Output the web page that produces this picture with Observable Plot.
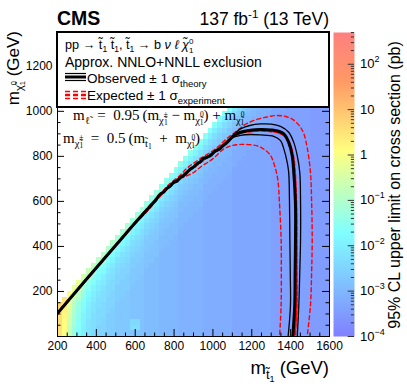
<!DOCTYPE html>
<html><head><meta charset="utf-8">
<script src="https://cdn.jsdelivr.net/npm/d3@7"></script>
<script src="https://cdn.jsdelivr.net/npm/@observablehq/plot@0.6"></script>
<style>
html,body{margin:0;padding:0;background:#fff;}
#chart{position:relative;width:407px;height:391px;font-family:"Liberation Sans",Arial,Helvetica,sans-serif;}
#chart svg{position:absolute;top:0;overflow:visible;}
</style></head><body><div id="chart"></div>
<script>
// ---------------- data ----------------
// heat map: 25 GeV cells, x from 200 GeV, y from 0 GeV; each row is right-anchored at 1600 GeV
const X_START = 200, X_BIN = 25, Y_BIN = 25, N_COLS = 56;
// one character per cell: log10(sigma/pb) = -3.6 + 0.1 * index in LEVELS
const LEVELS = "0123456789ABCDEFGHIJKLMNOPQRSTUVWXYZabcdefghijklmnopqrstuvwxyz";
const LOG_MIN = -3.6, LOG_STEP = 0.1;
const ROWS = [
  "faTNJGEC" + "BBAA" + "999" + "888" + "777" + "6666" + "55555" + "444444" + "33333333" + "22222222" + "1111",
  "gbTNKGED" + "BBAA" + "999" + "DD8" + "777" + "6666" + "55555" + "444444" + "33333333" + "22222222" + "1111",
  "gbUOKHEDC" + "BAA" + "999" + "CC8" + "777" + "6666" + "55555" + "444444" + "33333333" + "22222222" + "1111",
  "gcVPLHFDCC" + "AA" + "999" + "888" + "777" + "6666" + "55555" + "444444" + "33333333" + "22222222" + "1111",
  "hdWQMIFECCB" + "A" + "999" + "888" + "777" + "6666" + "55555" + "444444" + "33333333" + "22222222" + "1111",
  "ieXRNJGEDCBB" + "999" + "888" + "777" + "6666" + "55555" + "444444" + "33333333" + "22222222" + "1111",
  "fZTPKHFDDBBA" + "99" + "888" + "777" + "6666" + "55555" + "444444" + "33333333" + "22222222" + "1111",
  "bVRMIGEDCBAA" + "9" + "888" + "777" + "6666" + "55555" + "444444" + "33333333" + "22222222" + "1111",
  "YUOKHFECCAAA" + "888" + "777" + "6666" + "55555" + "444444" + "33333333" + "22222222" + "1111",
  "YRMJGFDCBAA9" + "88" + "777" + "6666" + "55555" + "444444" + "33333333" + "22222222" + "1111",
  "VPLIGEDBBA99" + "8" + "777" + "6666" + "55555" + "444444" + "33333333" + "22222222" + "1111",
  "TOKIFECBB999" + "777" + "6666" + "55555" + "444444" + "33333333" + "22222222" + "1111",
  "SNKHFDCBA998" + "77" + "6666" + "55555" + "444444" + "33333333" + "22222222" + "1111",
  "RNJHEDCAA988" + "7" + "6666" + "55555" + "444444" + "33333333" + "22222222" + "1111",
  "RMJGEDBAA888" + "6666" + "55555" + "444444" + "33333333" + "22222222" + "1111",
  "QMIGECBA9887" + "666" + "55555" + "444444" + "33333333" + "22222222" + "1111",
  "QLIGDCB99877" + "66" + "55555" + "444444" + "33333333" + "22222222" + "1111",
  "PLIFDCA99777" + "6" + "55555" + "444444" + "33333333" + "22222222" + "1111",
  "PLHFDBA98777" + "55555" + "444444" + "33333333" + "22222222" + "1111",
  "PKHFCBA88776" + "5555" + "444444" + "33333333" + "22222222" + "1111",
  "OKHECB988766" + "555" + "444444" + "33333333" + "22222222" + "1111",
  "OKGECA988666" + "55" + "444444" + "33333333" + "22222222" + "1111",
  "OJGEBA987666" + "5" + "444444" + "33333333" + "22222222" + "1111",
  "NJGDBA977666" + "444444" + "33333333" + "22222222" + "1111",
  "NJFDBA877665" + "44444" + "33333333" + "22222222" + "1111",
  "NIFDB9877655" + "4444" + "33333333" + "22222222" + "1111",
  "MIFDA9877555" + "444" + "33333333" + "22222222" + "1111",
  "MIFCA9876555" + "44" + "33333333" + "22222222" + "1111",
  "MIECA9866555" + "4" + "33333333" + "22222222" + "1111",
  "MHECA9766555" + "33333333" + "22222222" + "1111",
  "LHECA8766554" + "3333333" + "22222222" + "1111",
  "LHEC98766544" + "333333" + "22222222" + "1111",
  "LHEB98766444" + "33333" + "22222222" + "1111",
  "LHDB98765444" + "3333" + "22222222" + "1111",
  "LGDB98755444" + "333" + "22222222" + "1111",
  "KGDB98655444" + "33" + "22222222" + "1111",
  "KGDB97655444" + "3" + "22222222" + "1111",
  "KGDB87655444" + "22222222" + "1111",
  "KGDA87655443" + "2222222" + "1111",
  "KGCA87655433" + "222222" + "1111",
  "KFCA87655333" + "22222" + "1111"
];

// exclusion contours [m_stop, m_chi] in GeV
const OBSERVED = [[200,103],[350,255],[500,405],[600,505],[661,563],[700,600],[730,633],[745,640],[760,655],[780,668],[799,685],[815,690],[835,708],[850,715],[870,732],[884,744],[900,752],[919,767],[935,776],[950,790],[970,796],[990,805],[1010,822],[1030,830],[1050,845],[1073,862],[1107,892],[1142,907],[1193,916],[1245,919],[1300,917],[1331,913],[1365,900],[1390,862],[1408,803],[1416,729],[1425,581],[1425,434],[1423,285],[1421,138],[1411,0]];
const OBS_PLUS = [[1010,822],[1030,830],[1050,845],[1073,862],[1107,897],[1142,922],[1190,937],[1245,944],[1300,943],[1348,933],[1390,907],[1416,862],[1434,803],[1447,729],[1451,600],[1451,434],[1447,285],[1442,138],[1434,0]];
const OBS_MINUS = [[1010,822],[1030,830],[1050,845],[1073,862],[1107,885],[1142,893],[1190,897],[1245,895],[1313,889],[1348,870],[1365,833],[1382,774],[1390,729],[1394,600],[1396,434],[1398,285],[1399,138],[1387,0]];
const EXPECTED = [[200,103],[350,255],[500,405],[600,505],[661,565],[720,622],[780,672],[840,712],[900,752],[960,790],[1020,828],[1073,866],[1110,893],[1150,906],[1193,912],[1245,915],[1300,912],[1340,905],[1370,890],[1395,855],[1412,800],[1421,729],[1428,581],[1430,434],[1430,285],[1430,138],[1421,0]];
const EXP_PLUS = [[600,505],[661,570],[713,618],[780,680],[830,715],[867,748],[910,775],[953,800],[1000,825],[1039,852],[1070,878],[1107,902],[1140,925],[1176,946],[1230,965],[1279,975],[1322,981],[1370,978],[1414,962],[1450,930],[1468,900],[1485,840],[1502,729],[1508,600],[1511,434],[1508,285],[1502,138],[1485,0]];
const EXP_MINUS = [[600,505],[650,545],[696,590],[760,650],[833,700],[870,715],[902,729],[940,755],[987,781],[1020,805],[1056,833],[1100,848],[1142,853],[1185,852],[1230,846],[1265,830],[1296,805],[1322,745],[1335,690],[1342,600],[1351,434],[1352,285],[1351,138],[1343,0]];

// axes
const X_TICKS = [200,400,600,800,1000,1200,1400,1600];
const X_MINOR = [250,300,350,450,500,550,650,700,750,850,900,950,1050,1100,1150,1250,1300,1350,1450,1500,1550];
const Y_TICKS = [200,400,600,800,1000,1200];
const Y_MINOR = [50,100,150,250,300,350,450,500,550,650,700,750,850,900,950,1050,1100,1150,1250,1300];
// colour bar (log10 of pb)
const Z_MIN_LOG = -4, Z_MAX_LOG = 2.7;
const Z_TICKS = [-4,-3,-2,-1,0,1,2];
const Z_LABELS = [["10","−4"],["10","−3"],["10","−2"],["10","−1"],["1",""],["10",""],["10","2"]];
// palette stops (log10 pb) and colours
const Z_STOPS_LOG = [-4, -1.72, 0.09, 1.63, 2.7];
const Z_COLORS = ["rgb(128,128,255)","rgb(128,255,255)","rgb(255,255,128)","rgb(255,153,102)","rgb(255,128,128)"];

// ---------------- build ----------------
const cells = [];
ROWS.forEach((s, j) => {
  const start = N_COLS - s.length;
  [...s].forEach((c, k) => {
    const idx = LEVELS.indexOf(c);
    if (idx < 0) return;
    const i = start + k;
    cells.push({x1: X_START + i * X_BIN, x2: X_START + (i + 1) * X_BIN, y1: j * Y_BIN, y2: (j + 1) * Y_BIN,
                v: Math.pow(10, LOG_MIN + LOG_STEP * idx)});
  });
});

const colorOpts = {type: "log", domain: Z_STOPS_LOG.map(d => Math.pow(10, d)), range: Z_COLORS, interpolate: "rgb", clamp: true};
const FONT = "Liberation Sans, Arial, Helvetica, sans-serif";

const main = Plot.plot({
  width: 407, height: 391, marginLeft: 57, marginRight: 78, marginTop: 32, marginBottom: 55,
  x: {domain: [200, 1600]},
  y: {domain: [0, 1350]},
  color: colorOpts,
  style: {fontFamily: FONT, fontSize: "12px", background: "transparent", color: "black"},
  marks: [
    Plot.rect(cells, {x1: "x1", x2: "x2", y1: "y1", y2: "y2", fill: "v", shapeRendering: "crispEdges"}),
    Plot.line(EXP_MINUS, {stroke: "#ff0000", strokeWidth: 1.4, strokeDasharray: "4,3", curve: "catmull-rom", clip: true}),
    Plot.line(EXP_PLUS, {stroke: "#ff0000", strokeWidth: 1.4, strokeDasharray: "4,3", curve: "catmull-rom", clip: true}),
    Plot.line(EXPECTED, {stroke: "#ff0000", strokeWidth: 2.6, strokeDasharray: "4,2.5", curve: "catmull-rom", clip: true}),
    Plot.line(OBS_MINUS, {stroke: "black", strokeWidth: 1.3, curve: "catmull-rom", clip: true}),
    Plot.line(OBS_PLUS, {stroke: "black", strokeWidth: 1.3, curve: "catmull-rom", clip: true}),
    Plot.line(OBSERVED, {stroke: "black", strokeWidth: 3, curve: "catmull-rom", clip: true}),
    Plot.ruleX(X_TICKS, {x: d => d, insetTop: 297, stroke: "black"}),
    Plot.ruleX(X_MINOR, {x: d => d, insetTop: 300.5, stroke: "black"}),
    Plot.ruleY(Y_TICKS, {y: d => d, insetRight: 265, stroke: "black"}),
    Plot.ruleY(Y_MINOR, {y: d => d, insetRight: 268.5, stroke: "black"}),
    Plot.ruleY(Y_TICKS, {y: d => d, insetLeft: 265, stroke: "black"}),
    Plot.ruleY(Y_MINOR, {y: d => d, insetLeft: 268.5, stroke: "black"}),
    Plot.frame({stroke: "black"}),
    Plot.axisX({ticks: X_TICKS, tickSize: 0, tickPadding: 5, tickFormat: d => String(d), label: null, fontSize: 12}),
    Plot.axisY({ticks: Y_TICKS, tickSize: 0, tickPadding: 5, tickFormat: d => String(d), label: null, fontSize: 12})
  ]
});

const zMinor = [];
for (let e = Z_MIN_LOG; e < Z_MAX_LOG; e++) for (let k = 2; k <= 9; k++) {
  const l = e + Math.log10(k); if (l <= Z_MAX_LOG) zMinor.push(l);
}
const bar = Plot.plot({
  width: 74, height: 391, marginLeft: 0, marginRight: 53, marginTop: 32, marginBottom: 55,
  x: {domain: [0, 1], axis: null},
  y: {domain: [Z_MIN_LOG, Z_MAX_LOG], axis: null},
  color: colorOpts,
  style: {fontFamily: FONT, background: "transparent", color: "black"},
  marks: [
    Plot.raster({x1: 0, x2: 1, y1: Z_MIN_LOG, y2: Z_MAX_LOG, fill: (x, y) => Math.pow(10, y), width: 21, height: 304}),
    Plot.ruleY(Z_TICKS, {y: d => d, x1: 0.7, x2: 1, stroke: "#333"}),
    Plot.ruleY(zMinor, {y: d => d, x1: 0.85, x2: 1, stroke: "#333"})
  ]
});

const chart = document.getElementById("chart");
main.style.left = "0px";
bar.style.left = "333px";
chart.appendChild(main);
chart.appendChild(bar);

// ---------------- text helpers ----------------
function addText(sel, x, y, parts, attrs) {
  const t = sel.append("text").attr("x", x).attr("y", y).attr("text-anchor", "start").attr("fill", "black");
  for (const [k, v] of Object.entries(attrs || {})) t.attr(k, v);
  for (const p of parts) {
    const s = t.append("tspan").text(p.t);
    if (p.size) s.attr("font-size", p.size);
    if (p.dy) s.attr("dy", p.dy);
    if (p.dx) s.attr("dx", p.dx);
    if (p.style) s.attr("font-style", p.style);
    if (p.weight) s.attr("font-weight", p.weight);
  }
  return t;
}

const svg = d3.select(main);
// legend box
svg.append("rect").attr("x", 57).attr("y", 32).attr("width", 272).attr("height", 75)
  .attr("fill", "white").attr("stroke", "black").attr("stroke-width", 2);

const lg = svg.append("g").attr("font-family", FONT).attr("fill", "black");
addText(lg, 65, 49, [
  {t: "pp → t̃"}, {t: "1", size: 8.5, dy: 3}, {t: " t̃", dy: -3}, {t: "1", size: 8.5, dy: 3},
  {t: ", t̃", dy: -3}, {t: "1", size: 8.5, dy: 3}, {t: " → b ", dy: -3}, {t: "ν ℓ χ̃", style: "italic"},
  {t: "0", size: 8, dy: -5.5}, {t: "1", size: 8, dx: -4.4, dy: 9}
], {"font-size": 12.7});
addText(lg, 65, 66.5, [{t: "Approx. NNLO+NNLL exclusion"}], {"font-size": 14});
addText(lg, 87, 83, [{t: "Observed ± 1 σ"}, {t: "theory", size: 9.5, dy: 4}], {"font-size": 13.5});
addText(lg, 87, 99.5, [{t: "Expected ± 1 σ"}, {t: "experiment", size: 9.5, dy: 4}], {"font-size": 13.5});
// legend samples
[[73.5, 1.2], [77, 3], [80.5, 1.2]].forEach(([y, w]) =>
  lg.append("line").attr("x1", 65).attr("x2", 86).attr("y1", y).attr("y2", y).attr("stroke", "black").attr("stroke-width", w));
[[91.5, 1.4], [95, 2.4], [98.5, 1.4]].forEach(([y, w]) =>
  lg.append("line").attr("x1", 65).attr("x2", 86).attr("y1", y).attr("y2", y).attr("stroke", "#ff0000")
    .attr("stroke-width", w).attr("stroke-dasharray", "5,3"));

// header
addText(svg, 57, 25, [{t: "CMS"}], {"font-size": 19.5, "font-weight": "bold", "font-family": FONT});
addText(svg, 329, 25, [{t: "137 fb"}, {t: "-1", size: 11.5, dy: -7}, {t: " (13 TeV)", dy: 7}],
  {"font-size": 17.5, "text-anchor": "end", "font-family": FONT});

// axis titles
addText(svg, 329, 374, [{t: "m"}, {t: "t̃", size: 13, dy: 5}, {t: "1", size: 9, dy: 3}, {t: " (GeV)", dy: -8}],
  {"font-size": 18.5, "text-anchor": "end", "font-family": FONT});
const yt = svg.append("g").attr("transform", "translate(19,31) rotate(-90)");
addText(yt, 0, 0, [{t: "m"}, {t: "χ̃", size: 11, dy: 4}, {t: "0", size: 7.5, dy: -7}, {t: "1", size: 7.5, dx: -4.2, dy: 9},
  {t: " (GeV)", dy: -6}], {"font-size": 17, "text-anchor": "end", "font-family": FONT});

// in-plot relations (LaTeX-like serif)
const SERIF = "Liberation Serif, DejaVu Serif, serif";
const chi = (sup) => [{t: "χ̃", size: 10.5, dy: 3.5}, {t: sup, size: 7.5, dy: -7}, {t: "1", size: 7.5, dx: -4, dy: 8.5}];
addText(svg, 73, 120, [
  {t: "m"}, {t: "ℓ̃", size: 10.5, dy: 3.5}, {t: "\u2002=\u20020.95\u2009(m", dy: -3.5}, ...chi("±"), {t: " − m", dy: -5}, ...chi("0"),
  {t: ") + m", dy: -5}, ...chi("0")
], {"font-size": 15, "font-family": SERIF});
addText(svg, 63, 143, [
  {t: "m"}, ...chi("±"), {t: "\u2002=\u20020.5\u2009(m", dy: -5}, {t: "t̃", size: 10.5, dy: 3.5}, {t: "1", size: 7.5, dy: 2},
  {t: "\u2002+\u2002m", dy: -5.5}, ...chi("0"), {t: ")", dy: -5}
], {"font-size": 15, "font-family": SERIF});

// colour bar labels and title
const bsvg = d3.select(bar);
const by = bar.scale("y");
Z_TICKS.forEach((t, i) => {
  const [base, sup] = Z_LABELS[i];
  const parts = [{t: base}];
  if (sup) parts.push({t: sup, size: 9, dy: -6});
  addText(bsvg, 27, by.apply(t) + 4.5, parts, {"font-size": 13, "font-family": FONT});
});
const bt = bsvg.append("g").attr("transform", "translate(67,185) rotate(-90)");
addText(bt, 0, 0, [{t: "95% CL upper limit on cross section (pb)"}], {"font-size": 16, "text-anchor": "middle", "font-family": FONT});
</script>
</body></html>
